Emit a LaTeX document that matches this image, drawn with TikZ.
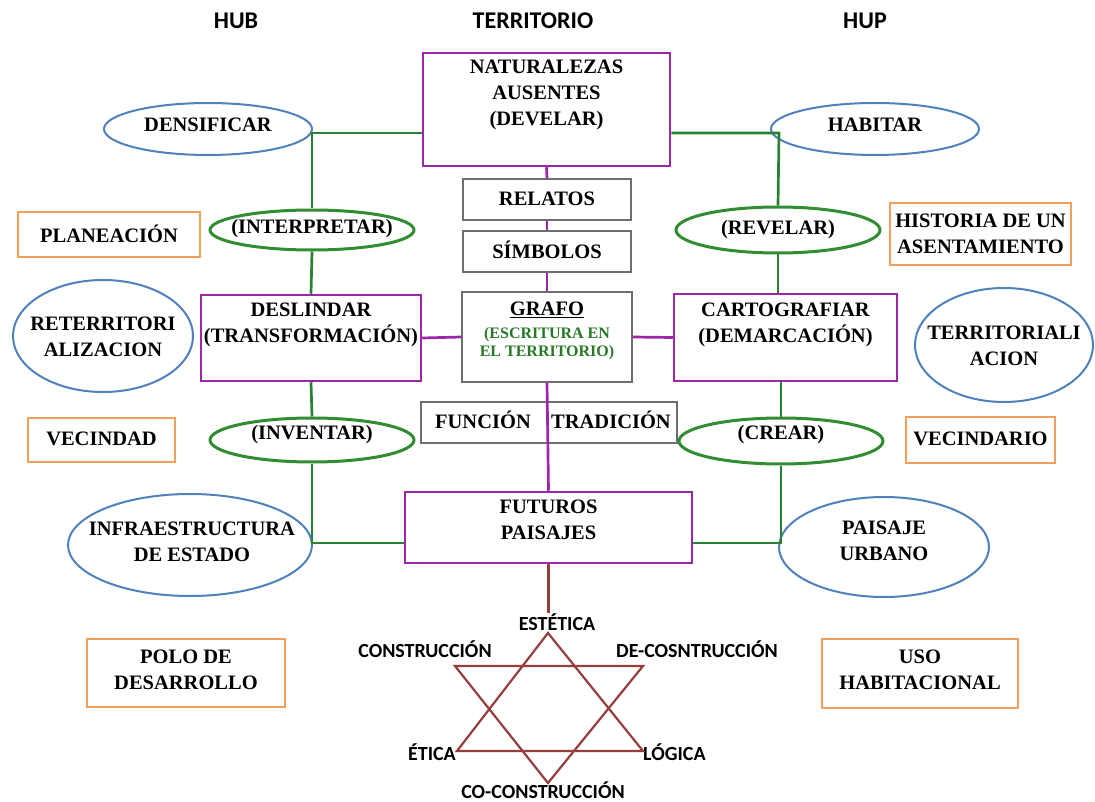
\documentclass[tikz,border=0pt]{standalone}
\usepackage{fontspec}
\setmainfont{Liberation Serif}
\newfontfamily\hdrfont{Carlito}
\usetikzlibrary{shapes.geometric}
\definecolor{purp}{RGB}{158,38,168}
\definecolor{grn}{RGB}{40,130,50}
\definecolor{grnell}{RGB}{50,140,50}
\definecolor{grntxt}{RGB}{40,120,40}
\definecolor{blu}{RGB}{79,129,189}
\definecolor{org}{RGB}{240,160,90}
\definecolor{gry}{RGB}{110,110,110}
\definecolor{brn}{RGB}{150,62,62}
\begin{document}
\begin{tikzpicture}[x=1pt,y=-1pt,
  pbox/.style={rectangle, draw=purp, line width=2.5pt, inner sep=0},
  gbox/.style={rectangle, draw=gry, line width=1.2pt, inner sep=0},
  obox/.style={rectangle, draw=org, line width=2pt, inner sep=0},
  bell/.style={ellipse, draw=blu, line width=2pt, inner sep=0},
  gell/.style={ellipse, draw=grnell, line width=3pt, inner sep=0},
  gline/.style={draw=grn, line width=2.7pt},
  pline/.style={draw=purp, line width=2.7pt},
  bline/.style={draw=brn, line width=2.2pt, line join=miter},
  txt/.style={font=\fontsize{20.5}{26}\selectfont\bfseries, align=center, inner sep=0},
  gtxt/.style={font=\fontsize{16}{18}\selectfont\bfseries, align=center, inner sep=0, text=grntxt},
  sans/.style={font=\hdrfont\fontsize{20}{24}\selectfont\bfseries, inner sep=0},
  hdr/.style={font=\hdrfont\fontsize{24}{28}\selectfont\bfseries, inner sep=0}]
\useasboundingbox[fill=white] (0,0) rectangle (1095,802);

% headers
\node[hdr] (hub) at (236,21) {HUB};
\node[hdr] (terr) at (533,21) {TERRITORIO};
\node[hdr] (hup) at (865,21) {HUP};

% central column
\node[pbox, minimum width=247, minimum height=113] (nat) at (546.5,109.5) {};
\node[txt] (natT) at (546.5,95) {NATURALEZAS\\AUSENTES\\(DEVELAR)};
\node[gbox, minimum width=168, minimum height=41] (rel) at (547,199.5) {};
\node[txt] (relT) at (547,199) {RELATOS};
\node[gbox, minimum width=168, minimum height=41] (sim) at (547,251.5) {};
\node[txt] (simT) at (547,250) {SÍMBOLOS};
\node[gbox, minimum width=170, minimum height=90] (grafo) at (547,337) {};
\node[txt] (grafoT) at (547,310) {\underline{GRAFO}};
\node[gtxt] (grafoS) at (547,344) {(ESCRITURA EN\\EL TERRITORIO)};
\node[gbox, minimum width=256, minimum height=41] (ft) at (549,422.5) {};
\node[txt] (fun) at (483,420) {FUNCIÓN};
\node[txt] (tra) at (611,420) {TRADICIÓN};
\node[pbox, minimum width=287, minimum height=71] (fut) at (548.5,527.5) {};
\node[txt] (futT) at (548.5,520) {FUTUROS\\PAISAJES};

% left column
\node[pbox, minimum width=220, minimum height=86] (desl) at (311,338) {};
\node[txt] (deslT) at (311,325) {DESLINDAR\\(TRANSFORMACIÓN)};
\node[bell, minimum width=208, minimum height=52] (dens) at (208,129) {};
\node[txt] (densT) at (208,125) {DENSIFICAR};
\node[gell, minimum width=204, minimum height=40] (interp) at (312,230) {};
\node[txt] (interpT) at (312,229) {(INTERPRETAR)};
\node[gell, minimum width=204, minimum height=44] (inv) at (312,440) {};
\node[txt] (invT) at (312,435) {(INVENTAR)};
\node[bell, minimum width=180, minimum height=112] (reter) at (103,336) {};
\node[txt] (reterT) at (103,337) {RETERRITORI\\ALIZACION};
\node[bell, minimum width=244, minimum height=102] (infra) at (190,545) {};
\node[txt] (infraT) at (192,542) {INFRAESTRUCTURA\\DE ESTADO};
\node[obox, minimum width=182, minimum height=45] (plan) at (109,234.5) {};
\node[txt] (planT) at (109,234) {PLANEACIÓN};
\node[obox, minimum width=147, minimum height=44] (vec) at (101.5,440) {};
\node[txt] (vecT) at (101.5,439) {VECINDAD};
\node[obox, minimum width=198, minimum height=68] (polo) at (186,673) {};
\node[txt] (poloT) at (186,670) {POLO DE\\DESARROLLO};

% right column
\node[pbox, minimum width=223, minimum height=87] (carto) at (785.5,337.5) {};
\node[txt] (cartoT) at (785.5,325) {CARTOGRAFIAR\\(DEMARCACIÓN)};
\node[bell, minimum width=208, minimum height=52] (hab) at (875,129) {};
\node[txt] (habT) at (875,125) {HABITAR};
\node[gell, minimum width=204, minimum height=46] (rev) at (778,230) {};
\node[txt] (revT) at (778,230) {(REVELAR)};
\node[gell, minimum width=204, minimum height=46] (crear) at (781,441) {};
\node[txt] (crearT) at (781,435) {(CREAR)};
\node[bell, minimum width=178, minimum height=114] (territ) at (1004,345) {};
\node[txt] (territT) at (1004,346) {TERRITORIALI\\ACION};
\node[bell, minimum width=210, minimum height=100] (pais) at (884,547) {};
\node[txt] (paisT) at (884,541) {PAISAJE\\URBANO};
\node[obox, minimum width=181, minimum height=62] (hist) at (980.5,234) {};
\node[txt] (histT) at (980.5,234) {HISTORIA DE UN\\ASENTAMIENTO};
\node[obox, minimum width=149, minimum height=46] (vecio) at (980.5,440) {};
\node[txt] (vecioT) at (980.5,439) {VECINDARIO};
\node[obox, minimum width=196, minimum height=69] (uso) at (920,673.5) {};
\node[txt] (usoT) at (920,670) {USO\\HABITACIONAL};

% junctions
\coordinate (jl) at (312,133);
\coordinate (jr) at (779,133);
\coordinate (jl2) at (312,543);
\coordinate (jr2) at (781,543);

% green connectors
\draw[gline] (jl -| nat.west) -- (jl) -- (interp.north);
\draw[gline] (jr -| nat.east) -- (jr) -- (rev.north);
\draw[gline] (interp.south) -- (desl.south |- desl.north);
\draw[gline] (desl.south) -- (inv.north);
\draw[gline] (inv.south) -- (jl2) -- (jl2 -| fut.west);
\draw[gline] (rev.south) -- (rev.south |- carto.north);
\draw[gline] (carto.south -| crear.north) -- (crear.north);
\draw[gline] (crear.south) -- (jr2) -- (jr2 -| fut.east);

% purple connectors
\draw[pline] (nat.south) -- (rel.north);
\draw[pline] (rel.south) -- (sim.north);
\draw[pline] (sim.south) -- (grafo.north);
\draw[pline] (grafo.south) -- (fut.north);
\draw[pline] (desl.east) -- (grafo.west);
\draw[pline] (grafo.east) -- (carto.west);

% star
\node[sans] (est) at (557,622) {ESTÉTICA};
\node[sans] (cons) at (425,649) {CONSTRUCCIÓN};
\node[sans] (decons) at (697,649) {DE-COSNTRUCCIÓN};
\node[sans, anchor=east] (etica) at (456,752) {ÉTICA};
\node[sans, anchor=west] (logica) at (643,752) {LÓGICA};
\node[sans] (cocons) at (543,790) {CO-CONSTRUCCIÓN};
\coordinate (sa) at (548,633);
\coordinate (sb) at (457,751);
\coordinate (sc) at (643,751);
\coordinate (sd) at (455,666);
\coordinate (se) at (643,666);
\coordinate (sf) at (548,783);
\draw[bline] (fut.south) -- (fut.south |- est.north);
\draw[bline] (sa) -- (sb) -- (sc) -- cycle;
\draw[bline] (sd) -- (se) -- (sf) -- cycle;
\end{tikzpicture}
\end{document}
